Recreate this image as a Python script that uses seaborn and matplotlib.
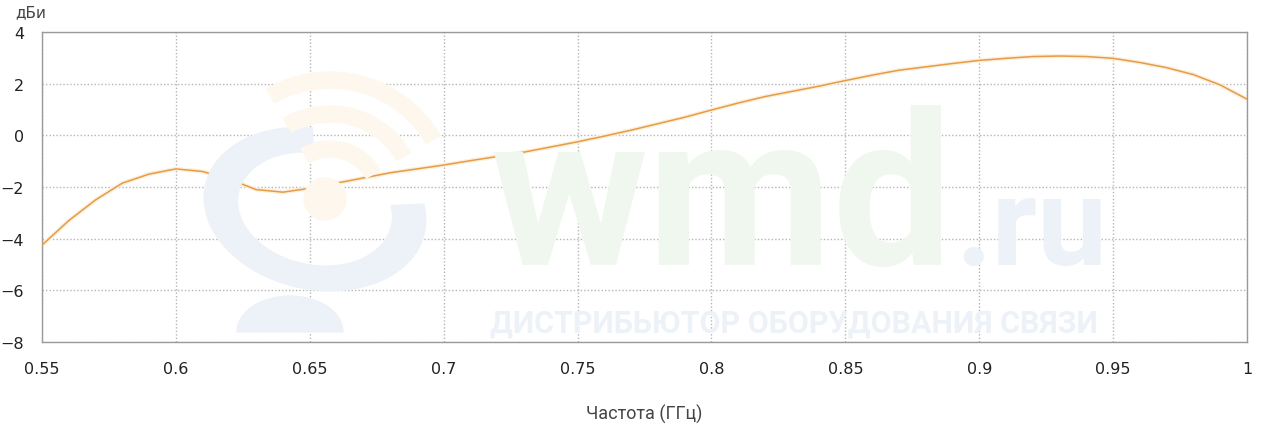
import numpy as np
import pandas as pd
import matplotlib
matplotlib.use('Agg')
import matplotlib.pyplot as plt
from matplotlib.patches import Wedge, Circle
from matplotlib.transforms import Affine2D
import seaborn as sns

# frequency (GHz) and gain (dBi)
freq = [0.55, 0.56, 0.57, 0.58, 0.59, 0.60, 0.61, 0.62, 0.63, 0.64,
        0.65, 0.66, 0.67, 0.68, 0.69, 0.70, 0.71, 0.72, 0.73, 0.74,
        0.75, 0.76, 0.77, 0.78, 0.79, 0.80, 0.81, 0.82, 0.83, 0.84,
        0.85, 0.86, 0.87, 0.88, 0.89, 0.90, 0.91, 0.92, 0.93, 0.94,
        0.95, 0.96, 0.97, 0.98, 0.99, 1.00]
gain = [-4.25, -3.3, -2.5, -1.85, -1.5, -1.3, -1.4, -1.7, -2.1, -2.2,
        -2.05, -1.85, -1.65, -1.45, -1.3, -1.15, -0.98, -0.82, -0.65, -0.45,
        -0.25, -0.03, 0.2, 0.45, 0.7, 0.98, 1.25, 1.5, 1.7, 1.9,
        2.12, 2.33, 2.52, 2.65, 2.78, 2.9, 2.98, 3.05, 3.07, 3.05,
        2.98, 2.82, 2.62, 2.35, 1.95, 1.4]
xticks = [0.55, 0.6, 0.65, 0.7, 0.75, 0.8, 0.85, 0.9, 0.95, 1]
xtick_labels = ['0.55', '0.6', '0.65', '0.7', '0.75', '0.8', '0.85', '0.9', '0.95', '1']
yticks = [-8, -6, -4, -2, 0, 2, 4]

df = pd.DataFrame({'freq': freq, 'gain': gain})

sns.set_style('white')
plt.rcParams['font.family'] = ['DejaVu Sans']

W, H = 1275, 435
fig = plt.figure(figsize=(W/100, H/100), dpi=100)
ax = fig.add_axes([42/W, 92/H, 1205/W, 310/H])

# faint watermark logo (pixel coords, y up)
blue = '#edf1f8'
orange = '#fef7ee'
px = Affine2D()
ring = Wedge((0, 0), 1, 100, 380, width=0.3, color=blue, zorder=0.1,
             transform=Affine2D().scale(112, 80).rotate_deg(-12).translate(315, H-210) + px)
fig.patches.append(ring)
base = Wedge((0, 0), 1, 0, 180, color=blue, zorder=0.1,
             transform=Affine2D().scale(53, 36).translate(290, H-333) + px)
fig.patches.append(base)
for r in [127, 93, 58]:
    fig.patches.append(Wedge((330, H-200), r, 30, 120, width=16, color=orange,
                             zorder=0.1, transform=px))
fig.patches.append(Circle((325, H-200), 21, color=orange, zorder=0.1, transform=px))

ax.patch.set_alpha(0)
fig.text(490/W, 1-265/H, 'wmd', fontsize=154, fontweight='bold',
         family='Roboto', color='#f0f7ee', zorder=0.1, ha='left', va='baseline')
fig.text(955/W, 1-265/H, '.ru', fontsize=90, fontweight='bold',
         family='Roboto', color=blue, zorder=0.1, ha='left', va='baseline')
fig.text(490/W, 1-333/H, 'ДИСТРИБЬЮТОР ОБОРУДОВАНИЯ СВЯЗИ', fontsize=22,
         fontweight='bold', family='Roboto', color=blue, zorder=0.1,
         ha='left', va='baseline')

sns.lineplot(data=df, x='freq', y='gain', ax=ax, color='#fcefdc', linewidth=3, zorder=2)
sns.lineplot(data=df, x='freq', y='gain', ax=ax, color='#e69c45', linewidth=1.1, zorder=3)

ax.set_xlim(0.55, 1)
ax.set_ylim(-8, 4)
ax.set_xticks(xticks)
ax.set_xticklabels(xtick_labels)
ax.set_yticks(yticks)
ax.grid(True, color='#b5b5b5', linestyle=(0, (1, 1.5)), linewidth=1)
for s in ax.spines.values():
    s.set_color('#9a9a9a')
    s.set_linewidth(1)
ax.tick_params(length=0, labelsize=11.5, colors='#222222')
ax.tick_params(axis='x', pad=14)
ax.tick_params(axis='y', pad=13)

ax.set_xlabel('Частота (ГГц)', fontsize=13, family='Roboto', color='#444444', labelpad=20)
ax.set_ylabel('')
fig.text(15/W, 1 - 13/H, 'дБи', fontsize=11, color='#444444', va='center', ha='left')

plt.savefig('out.png', dpi=100)
